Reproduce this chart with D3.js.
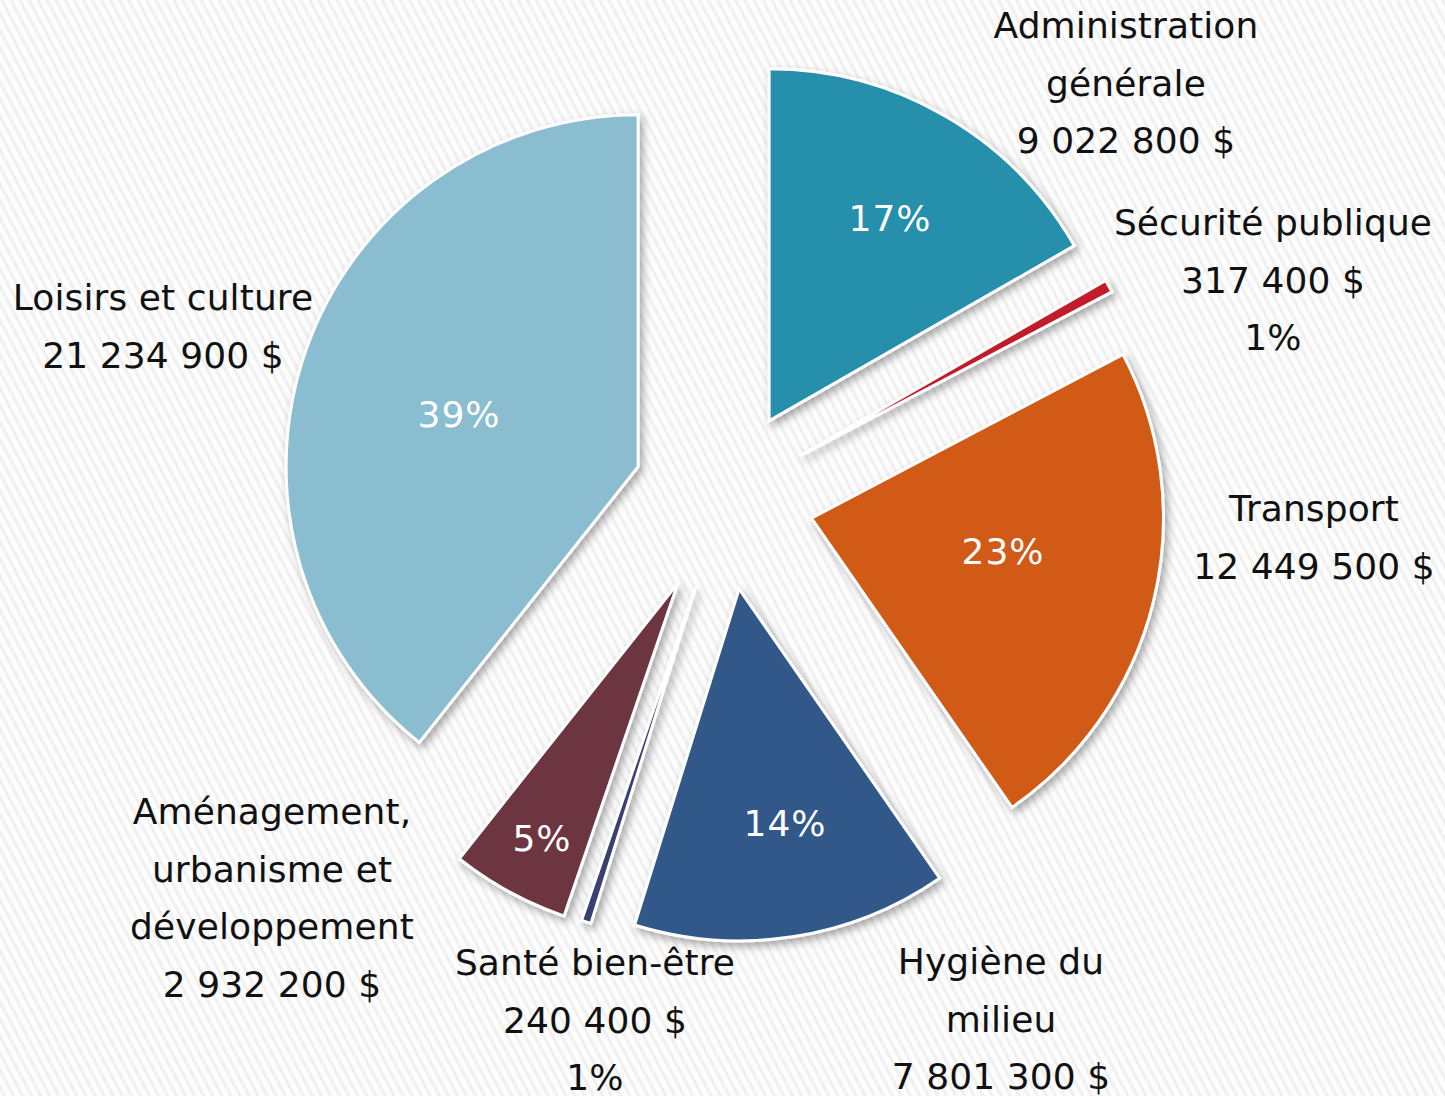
<!DOCTYPE html>
<html><head><meta charset="utf-8">
<script src="https://cdn.jsdelivr.net/npm/d3@7"></script>
<style>
html,body{margin:0;padding:0;background:#fff;}
svg{display:block;}
text{font-family:"DejaVu Sans",sans-serif;font-size:36px;}
</style></head>
<body>
<script>
// ---- data ----
const categories = ["Administration générale","Sécurité publique","Transport","Hygiène du milieu","Santé bien-être","Aménagement, urbanisme et développement","Loisirs et culture"];
const values = [9022800, 317400, 12449500, 7801300, 240400, 2932200, 21234900];
const amountLabels = ["9 022 800 $","317 400 $","12 449 500 $","7 801 300 $","240 400 $","2 932 200 $","21 234 900 $"];
const pctLabels = ["17%","1%","23%","14%","1%","5%","39%"];
const nameLines = [["Administration","générale"],["Sécurité publique"],["Transport"],["Hygiène du","milieu"],["Santé bien-être"],["Aménagement,","urbanisme et","développement"],["Loisirs et culture"]];
const pctOutside = [false,true,false,false,true,false,false];

// ---- layout / style ----
const colors = ["#288FAC","#C21F2B","#D05A18","#33588A","#3B3F72","#6C3441","#8BBDD0"];
const W = 1445, H = 1096;
const cx = 725, cy = 497, R = 352;
const explode = [88, 86, 89, 93, 95, 98, 92];
const outerLabelPos = [[1126,38],[1273,235],[1314,521],[1001,974],[595,975],[272,824],[163,310]];
const innerLabelPos = [[890,231],null,[1003,564],[785,836],null,[542,851],[459,427]];
const lineH = 57.5;

const svg = d3.select("body").append("svg").attr("width", W).attr("height", H);
const defs = svg.append("defs");
const pat = defs.append("pattern").attr("id","stripes").attr("patternUnits","userSpaceOnUse")
  .attr("width",8).attr("height",8).attr("patternTransform","rotate(-28)");
pat.append("rect").attr("width",8).attr("height",8).attr("fill","#fdfdfd");
pat.append("rect").attr("x",0).attr("width",3).attr("height",8).attr("fill","#f0f0f0");
const f = defs.append("filter").attr("id","shadow").attr("x","-20%").attr("y","-20%").attr("width","140%").attr("height","140%");
f.append("feDropShadow").attr("dx",3).attr("dy",4).attr("stdDeviation",4).attr("flood-color","#000").attr("flood-opacity",0.35);

svg.append("rect").attr("width",W).attr("height",H).attr("fill","url(#stripes)");

const pie = d3.pie().sort(null).value(d => d).startAngle(0).endAngle(2*Math.PI);
const arcs = pie(values);
const arc = d3.arc().innerRadius(0).outerRadius(R);

const g = svg.append("g");
arcs.forEach((a, i) => {
  const mid = (a.startAngle + a.endAngle) / 2;
  const ox = cx + explode[i] * Math.sin(mid);
  const oy = cy - explode[i] * Math.cos(mid);
  g.append("path")
    .attr("transform", `translate(${ox},${oy})`)
    .attr("d", arc(a))
    .attr("fill", colors[i])
    .attr("stroke", "#fff")
    .attr("stroke-width", 3)
    .attr("stroke-linejoin", "miter")
    .attr("filter", "url(#shadow)");
});

// inner percent labels
arcs.forEach((a, i) => {
  if (!innerLabelPos[i]) return;
  g.append("text").attr("x", innerLabelPos[i][0]).attr("y", innerLabelPos[i][1])
    .attr("text-anchor","middle").attr("fill","#fff").attr("letter-spacing", 1).text(pctLabels[i]);
});

// outer labels
categories.forEach((c, i) => {
  const lines = nameLines[i].concat([amountLabels[i]]);
  if (pctOutside[i]) lines.push(pctLabels[i]);
  const t = g.append("text").attr("text-anchor","middle").attr("fill","#111").attr("letter-spacing", 0.1);
  lines.forEach((ln, k) => {
    t.append("tspan").attr("x", outerLabelPos[i][0]).attr("y", outerLabelPos[i][1] + k*lineH).text(ln);
  });
});
</script>
</body></html>
